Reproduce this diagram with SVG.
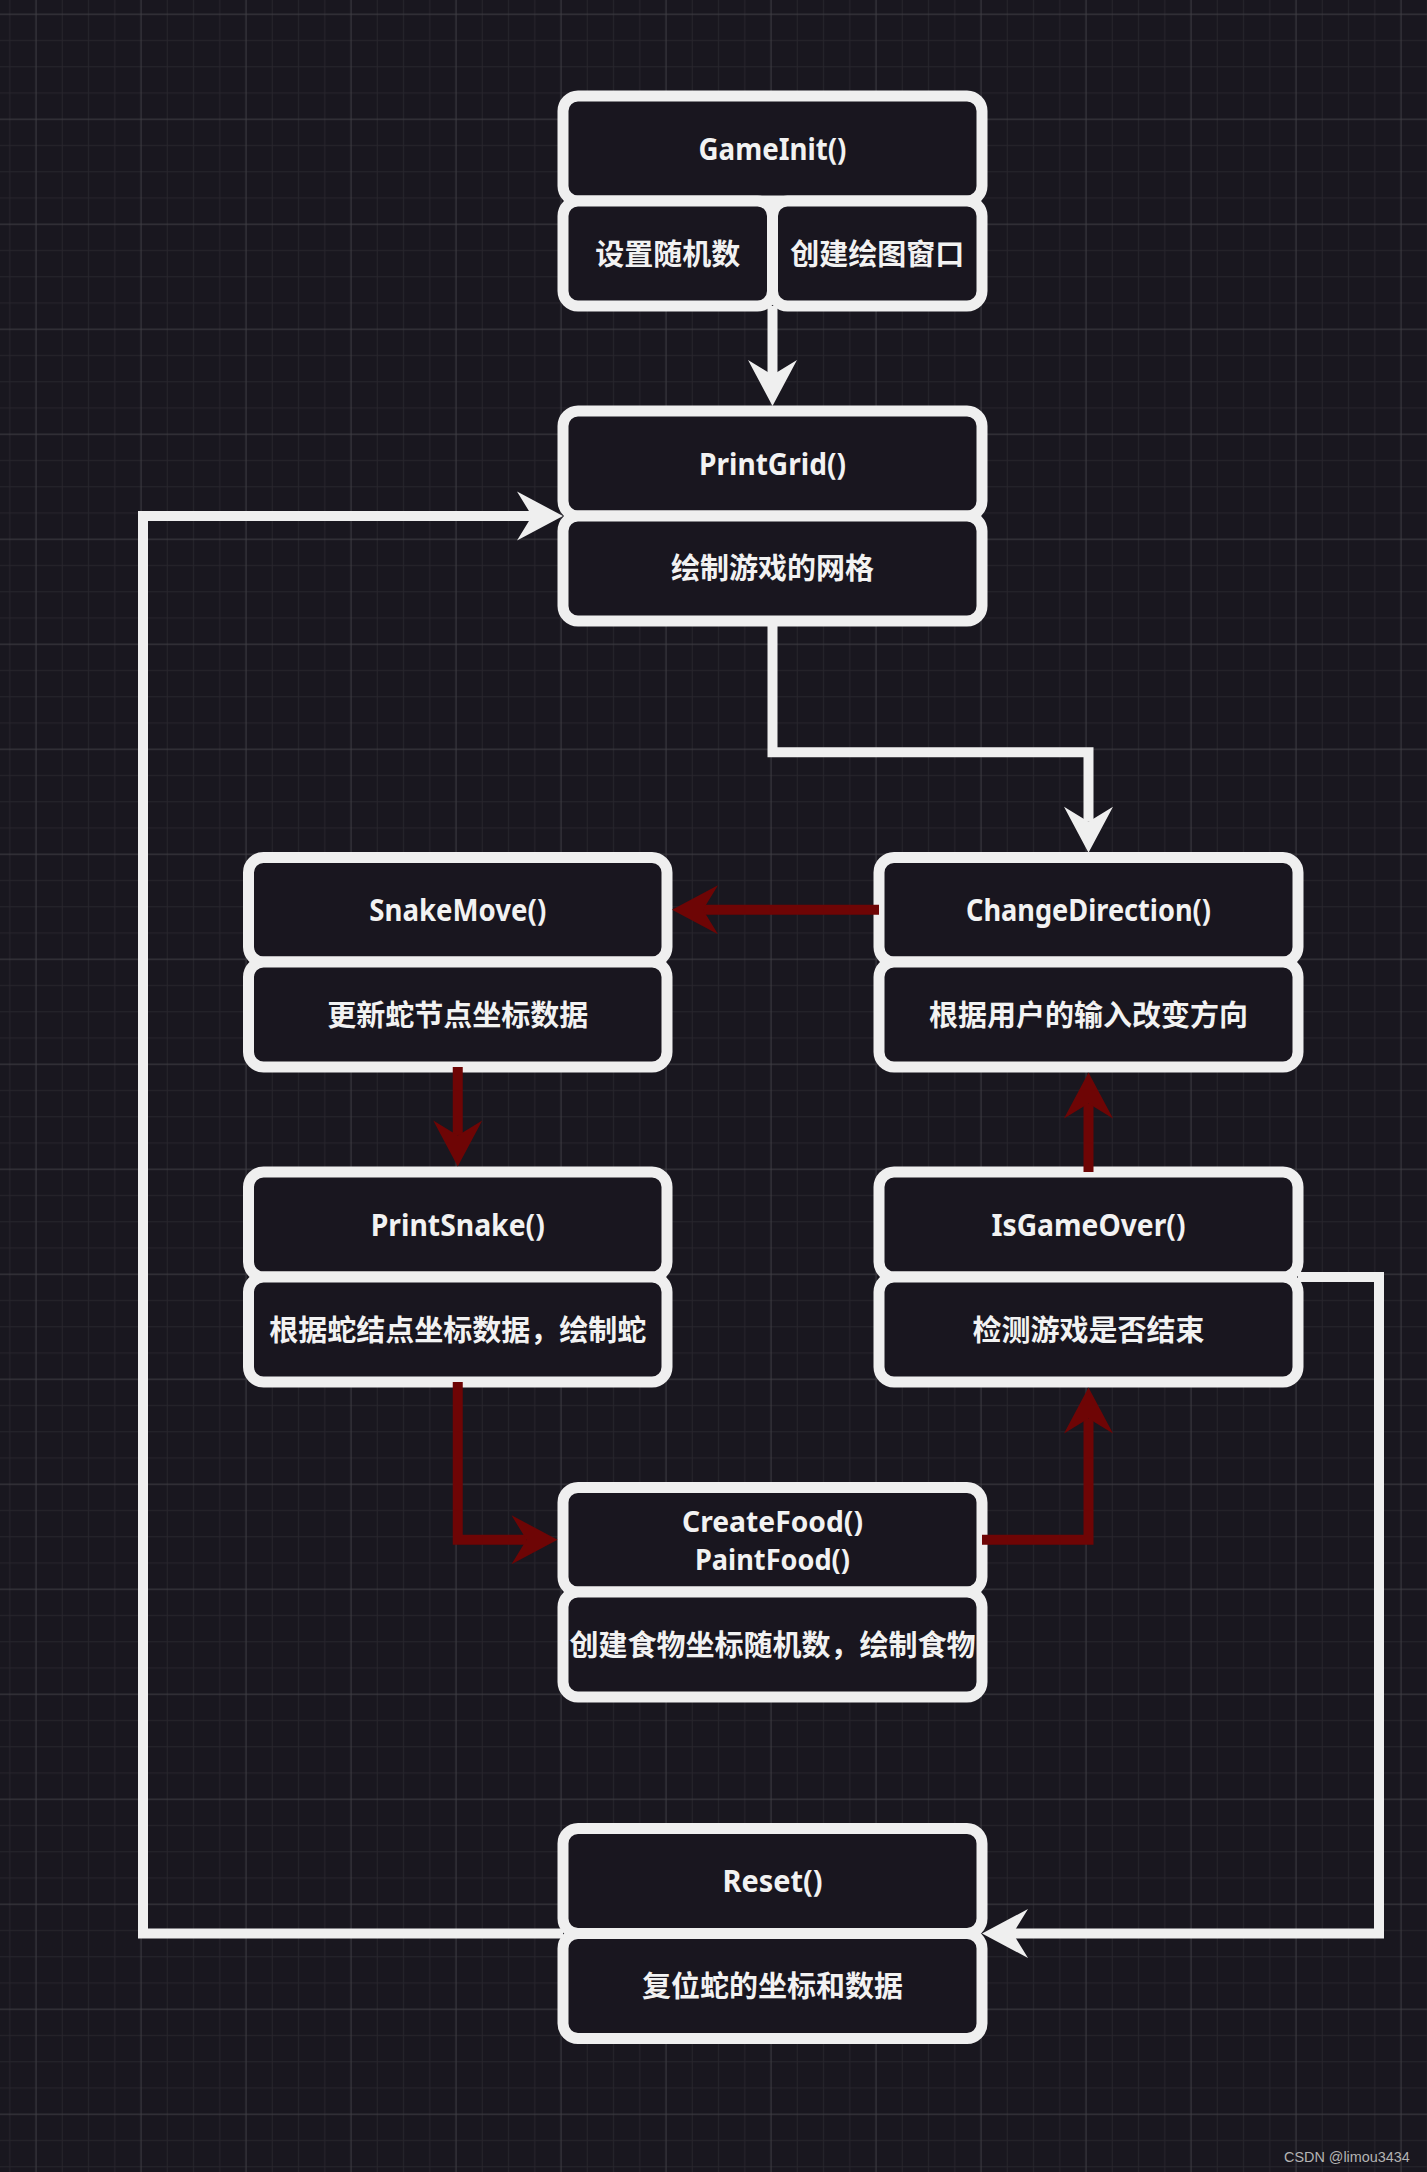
<svg xmlns="http://www.w3.org/2000/svg" width="1427" height="2172" viewBox="0 0 1427 2172">
  <style>
    .cell { fill: #19161f; stroke: #efefef; stroke-width: 11; }
    .fn { font-family: "Noto Sans", "Liberation Sans", sans-serif; font-weight: 700; font-size: 31px; fill: #f2f2f2; text-anchor: middle; }
    .fn2 { font-family: "Noto Sans", "Liberation Sans", sans-serif; font-weight: 700; font-size: 28.5px; fill: #f2f2f2; text-anchor: middle; }
    .zh { font-family: "Noto Sans CJK SC", "Noto Sans", sans-serif; font-weight: 700; font-size: 29px; fill: #f2f2f2; text-anchor: middle; }
    .w { fill: none; stroke: #efefef; stroke-width: 10; stroke-linejoin: miter; marker-end: url(#aw); }
    .r { fill: none; stroke: #6e0505; stroke-width: 10; stroke-linejoin: miter; marker-end: url(#ar); }
    .wm { font-family: "Liberation Sans", Arial, sans-serif; font-size: 14.4px; fill: #b4b4b4; }
  </style>
  <defs>
    <pattern id="grid" patternUnits="userSpaceOnUse" x="22.875" y="1.175" width="105" height="105">
      <path d="M39.375 0V105M65.625 0V105M91.875 0V105M0 39.375H105M0 65.625H105M0 91.875H105" stroke="#27252c" stroke-width="1" fill="none"/>
      <path d="M13.125 0V105M0 13.125H105" stroke="#3f3e44" stroke-width="1" fill="none"/>
    </pattern>
    <marker id="aw" markerUnits="userSpaceOnUse" markerWidth="80" markerHeight="80" refX="0" refY="0" orient="auto" overflow="visible">
      <path d="M31,0 L-15,-24.5 L0,0 L-15,24.5 Z" fill="#efefef"/>
    </marker>
    <marker id="ar" markerUnits="userSpaceOnUse" markerWidth="80" markerHeight="80" refX="0" refY="0" orient="auto" overflow="visible">
      <path d="M31,0 L-15,-24.5 L0,0 L-15,24.5 Z" fill="#6e0505"/>
    </marker>
  </defs>

  <rect x="0" y="0" width="1427" height="2172" fill="#19171f"/>
  <rect x="0" y="0" width="1427" height="2172" fill="url(#grid)"/>

  <g id="GameInit">
    <rect class="cell" x="563" y="96" width="419" height="105" rx="15"/>
    <rect class="cell" x="563" y="201" width="209.5" height="105" rx="15"/>
    <rect class="cell" x="772.5" y="201" width="209.5" height="105" rx="15"/>
    <text class="fn" x="772.5" y="159.5" textLength="148" lengthAdjust="spacingAndGlyphs">GameInit()</text>
    <text class="zh" x="667.75" y="264.5">设置随机数</text>
    <text class="zh" x="877.25" y="264.5">创建绘图窗口</text>
  </g>

  <g id="PrintGrid">
    <rect class="cell" x="563" y="411" width="419" height="105" rx="15"/>
    <rect class="cell" x="563" y="516" width="419" height="105" rx="15"/>
    <text class="fn" x="772.5" y="474.5" textLength="147" lengthAdjust="spacingAndGlyphs">PrintGrid()</text>
    <text class="zh" x="772.5" y="579.25">绘制游戏的网格</text>
  </g>

  <g id="SnakeMove">
    <rect class="cell" x="248.5" y="857.5" width="418.5" height="104.5" rx="15"/>
    <rect class="cell" x="248.5" y="962" width="418.5" height="105" rx="15"/>
    <text class="fn" x="457.75" y="920.75" textLength="177" lengthAdjust="spacingAndGlyphs">SnakeMove()</text>
    <text class="zh" x="457.75" y="1025.5">更新蛇节点坐标数据</text>
  </g>

  <g id="ChangeDirection">
    <rect class="cell" x="879" y="857.5" width="419" height="104.5" rx="15"/>
    <rect class="cell" x="879" y="962" width="419" height="105" rx="15"/>
    <text class="fn" x="1088.5" y="920.75" textLength="245" lengthAdjust="spacingAndGlyphs">ChangeDirection()</text>
    <text class="zh" x="1088.5" y="1025.5">根据用户的输入改变方向</text>
  </g>

  <g id="PrintSnake">
    <rect class="cell" x="248.5" y="1172" width="418.5" height="105" rx="15"/>
    <rect class="cell" x="248.5" y="1277" width="418.5" height="105" rx="15"/>
    <text class="fn" x="457.75" y="1235.5" textLength="174" lengthAdjust="spacingAndGlyphs">PrintSnake()</text>
    <text class="zh" x="457.75" y="1340.5">根据蛇结点坐标数据，绘制蛇</text>
  </g>

  <g id="IsGameOver">
    <rect class="cell" x="879" y="1172" width="419" height="105" rx="15"/>
    <rect class="cell" x="879" y="1277" width="419" height="105" rx="15"/>
    <text class="fn" x="1088.5" y="1235.5" textLength="194" lengthAdjust="spacingAndGlyphs">IsGameOver()</text>
    <text class="zh" x="1088.5" y="1340.5">检测游戏是否结束</text>
  </g>

  <g id="CreateFood">
    <rect class="cell" x="563" y="1487.5" width="419" height="104.5" rx="15"/>
    <rect class="cell" x="563" y="1592" width="419" height="105" rx="15"/>
    <text class="fn2" x="772.5" y="1532" textLength="181" lengthAdjust="spacingAndGlyphs">CreateFood()</text>
    <text class="fn2" x="772.5" y="1570" textLength="155" lengthAdjust="spacingAndGlyphs">PaintFood()</text>
    <text class="zh" x="772.5" y="1655.5">创建食物坐标随机数，绘制食物</text>
  </g>

  <g id="Reset">
    <rect class="cell" x="563" y="1828.5" width="419" height="105" rx="15"/>
    <rect class="cell" x="563" y="1933.5" width="419" height="105" rx="15"/>
    <text class="fn" x="772.5" y="1892" textLength="100" lengthAdjust="spacingAndGlyphs">Reset()</text>
    <text class="zh" x="772.5" y="1997">复位蛇的坐标和数据</text>
  </g>

  <g id="connectors">
    <path class="w" d="M772.5,306 V375"/>
    <path class="w" d="M772.5,621 V752.3 H1088.5 V821.7"/>
    <path class="r" d="M879,909.75 H703"/>
    <path class="r" d="M457.75,1067 V1135.5"/>
    <path class="r" d="M457.75,1382 V1539.75 H526.5"/>
    <path class="r" d="M982,1539.75 H1088.5 V1418.5"/>
    <path class="r" d="M1088.5,1172 V1103.5"/>
    <path class="w" d="M1298,1277 H1379 V1933.5 H1013"/>
    <path class="w" d="M563,1933.5 H143 V516 H532"/>
  </g>

  <text class="wm" x="1284" y="2161.5">CSDN @limou3434</text>
</svg>
